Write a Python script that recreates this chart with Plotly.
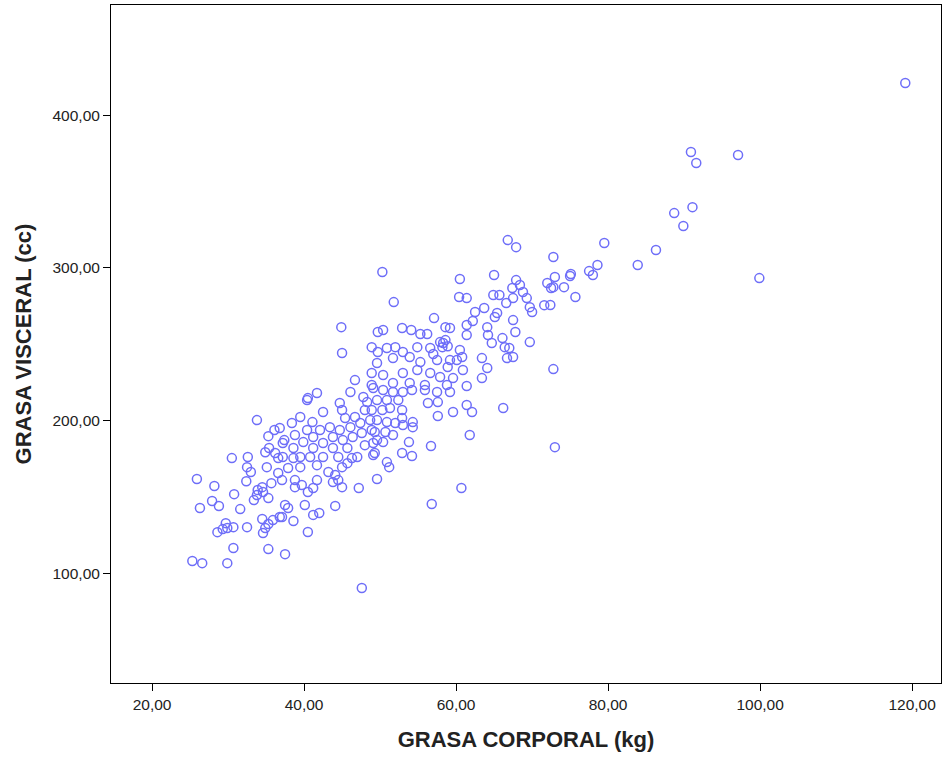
import plotly.graph_objects as go

# GRASA CORPORAL (kg) vs GRASA VISCERAL (cc), one entry per subject
grasa_corporal = [
    119.1, 90.9, 91.6, 97.1, 91.1, 88.7, 89.9, 86.3, 83.9, 99.9,
    79.5, 72.8, 78.6, 77.5, 78.0, 75.1, 75.0, 73.0, 72.8, 74.2, 75.7, 72.4, 72.8, 73.0,
    66.8, 67.9, 65.0, 60.5, 67.9, 68.4, 72.0, 72.5, 67.4, 68.8, 69.3, 61.4, 64.9, 65.7,
    67.5, 69.7, 71.6, 66.6, 63.7, 62.5, 70.0, 65.4, 65.1, 62.2, 61.4, 67.5, 64.1, 67.8,
    61.4, 64.2, 66.1, 69.7, 64.7, 66.4, 67.0, 60.5, 63.4, 66.7, 67.5, 60.8,
    64.1, 60.9, 63.4, 61.4, 61.4, 62.1, 66.2, 61.8, 60.7,
    55.9, 57.5, 59.2, 57.6, 56.3, 59.6, 57.6, 54.3, 54.3, 52.9, 52.9, 53.8, 56.7, 52.9,
    54.2, 50.9, 51.2, 49.6, 56.8,
    49.1, 50.4, 51.7, 53.0, 54.2, 49.6, 50.9, 52.4, 48.9, 50.3, 51.3, 49.6, 50.9, 52.0,
    53.0, 49.3, 50.7, 51.7, 49.1, 50.4, 49.3,
    50.3, 51.8, 60.4, 57.1, 50.4, 52.9, 54.1, 55.3, 56.2, 58.6, 59.2, 58.3, 57.9, 58.2,
    58.6, 58.9, 48.9, 49.7, 50.9, 52.0, 54.9, 56.6, 53.0, 53.9, 51.7, 49.6, 55.3, 57.5,
    59.2, 60.1, 57.0, 58.9, 48.9, 50.4, 53.0, 54.9, 56.6, 57.9, 59.6, 51.7, 53.9, 55.9, 58.8,
    44.9, 45.0, 49.7, 46.7, 48.9, 46.1, 41.7, 40.4, 40.5, 42.5, 44.7, 45.0, 47.8, 48.3,
    48.0, 39.5, 38.4, 41.1, 45.4, 46.7, 36.8, 38.8, 40.4, 42.1, 43.4, 44.7, 46.1, 47.4,
    48.7, 37.2, 38.6, 39.9, 41.2, 42.5, 43.8, 45.1, 46.4, 47.6, 48.9, 41.2, 43.8, 45.7,
    48.0, 49.6, 37.2, 39.5, 42.5, 44.5, 47.0, 49.1,
    38.6, 40.8, 46.3, 37.9, 39.5, 41.7, 43.2, 44.1, 45.0, 45.7, 44.5, 38.8, 38.8, 39.7,
    40.5, 41.2, 41.7, 43.8, 45.0, 47.2, 37.5, 37.9, 37.1, 38.6, 40.1, 41.2, 42.0, 44.1,
    40.5, 37.5, 47.6,
    33.8, 36.1, 35.3, 37.4, 34.9, 35.4, 36.2, 36.6, 30.5, 32.6, 32.5, 33.0, 35.1, 36.6,
    37.1, 32.4, 25.9, 28.2, 35.7, 34.5, 33.9, 34.6, 33.8, 35.3, 33.4, 30.8, 27.9, 28.8,
    26.3, 31.6, 34.5, 35.9, 36.8, 35.3, 34.9, 34.6, 29.7, 28.6, 29.3, 29.9, 30.7, 32.5,
    30.7, 35.3, 25.3, 26.6, 29.9,
]
grasa_visceral = [
    421.0, 375.8, 368.6, 373.8, 339.7, 335.8, 327.3, 311.6, 301.8, 293.2,
    316.2, 307.0, 301.8, 297.8, 295.2, 295.9, 294.6, 293.9, 287.3, 287.3, 280.8, 275.6, 233.6, 182.5,
    318.1, 313.5, 295.2, 292.6, 291.9, 288.7, 290.0, 286.7, 286.7, 284.1, 280.1, 280.1, 282.1, 282.1,
    280.1, 274.2, 275.5, 276.9, 273.6, 271.0, 271.0, 270.3, 267.7, 265.1, 262.5, 265.7, 261.1, 257.9,
    255.9, 255.9, 253.9, 251.3, 250.7, 248.0, 247.4, 246.1, 240.8, 240.8, 241.5, 241.5,
    234.3, 233.0, 227.7, 222.5, 210.1, 205.5, 208.1, 190.4, 155.7,
    219.9, 218.6, 218.6, 212.0, 211.4, 205.5, 202.9, 198.9, 195.6, 206.8, 201.5, 185.8, 183.2, 178.6,
    176.7, 172.7, 169.4, 161.6, 145.2,
    221.2, 219.9, 218.6, 218.6, 219.9, 213.3, 213.3, 213.3, 206.8, 206.8, 208.1, 200.2, 198.9, 198.3,
    197.0, 192.4, 192.4, 190.4, 185.2, 185.8, 178.6,
    297.2, 277.5, 280.8, 267.0, 259.2, 260.5, 259.2, 256.6, 256.6, 261.1, 260.5, 250.7, 251.3, 248.0,
    252.6, 248.6, 248.0, 244.8, 247.4, 248.0, 248.0, 247.4, 244.8, 241.5, 240.8, 237.6, 238.2, 239.5,
    239.5, 239.5, 243.5, 235.0, 231.0, 229.7, 231.0, 233.0, 231.0, 228.4, 227.7, 224.5, 224.5, 223.2, 223.2,
    261.1, 244.1, 257.9, 226.4, 223.2, 218.6, 217.9, 213.3, 214.6, 205.5, 211.4, 206.8, 215.3, 212.0,
    206.8, 202.2, 198.3, 198.9, 201.5, 202.2, 195.0, 190.4, 193.7, 193.7, 195.6, 193.7, 195.6, 198.3,
    200.2, 185.2, 181.9, 185.8, 189.1, 185.2, 189.1, 187.1, 189.1, 191.7, 193.7, 181.9, 181.9, 181.9,
    183.8, 187.1, 176.0, 176.0, 176.0, 176.0, 176.0, 177.3,
    175.3, 176.0, 175.3, 168.8, 169.4, 170.7, 166.2, 164.2, 169.4, 172.0, 160.9, 160.9, 156.3, 157.7,
    153.1, 155.7, 160.9, 159.6, 156.3, 155.7, 144.6, 142.6, 136.7, 134.1, 144.6, 138.1, 139.4, 144.0,
    126.9, 112.4, 90.2,
    200.2, 193.7, 189.7, 187.1, 179.2, 181.9, 178.6, 175.3, 175.3, 176.0, 169.4, 166.2, 169.4, 165.5,
    160.9, 160.2, 161.6, 157.0, 158.9, 156.3, 154.4, 153.1, 151.1, 149.1, 147.8, 151.7, 147.2, 143.9,
    142.6, 141.9, 135.4, 134.7, 136.7, 132.1, 129.5, 126.2, 132.7, 126.8, 128.8, 129.5, 130.1, 130.1,
    116.4, 115.7, 107.9, 106.5, 106.5,
]

x_ticks = [20, 40, 60, 80, 100, 120]
x_tick_labels = ["20,00", "40,00", "60,00", "80,00", "100,00", "120,00"]
y_ticks = [100, 200, 300, 400]
y_tick_labels = ["100,00", "200,00", "300,00", "400,00"]

FONT = "Liberation Sans, Arial, sans-serif"

fig = go.Figure(
    go.Scatter(
        x=grasa_corporal,
        y=grasa_visceral,
        mode="markers",
        marker=dict(
            symbol="circle-open",
            size=9,
            color="#6e6ef8",
            line=dict(width=1.5, color="#6e6ef8"),
        ),
        hoverinfo="x+y",
    )
)

axis_common = dict(
    showgrid=False,
    zeroline=False,
    showline=True,
    linecolor="#000000",
    linewidth=1,
    mirror=True,
    ticks="outside",
    ticklen=7,
    tickcolor="#000000",
    tickfont=dict(family=FONT, size=15.5, color="#222222"),
)

fig.update_layout(
    width=942,
    height=760,
    margin=dict(l=111, r=1, t=5, b=77),
    paper_bgcolor="white",
    plot_bgcolor="white",
    showlegend=False,
    xaxis=dict(
        axis_common,
        range=[14.6, 123.8],
        tickvals=x_ticks,
        ticktext=x_tick_labels,
        title=dict(
            text="<b>GRASA CORPORAL (kg)</b>",
            font=dict(family=FONT, size=22, color="#222222"),
            standoff=20,
        ),
    ),
    yaxis=dict(
        axis_common,
        range=[28.0, 472.1],
        tickvals=y_ticks,
        ticktext=y_tick_labels,
        title=dict(
            text="<b>GRASA VISCERAL (cc)</b>",
            font=dict(family=FONT, size=22, color="#222222"),
            standoff=14,
        ),
    ),
)

fig.write_html("out.html")
